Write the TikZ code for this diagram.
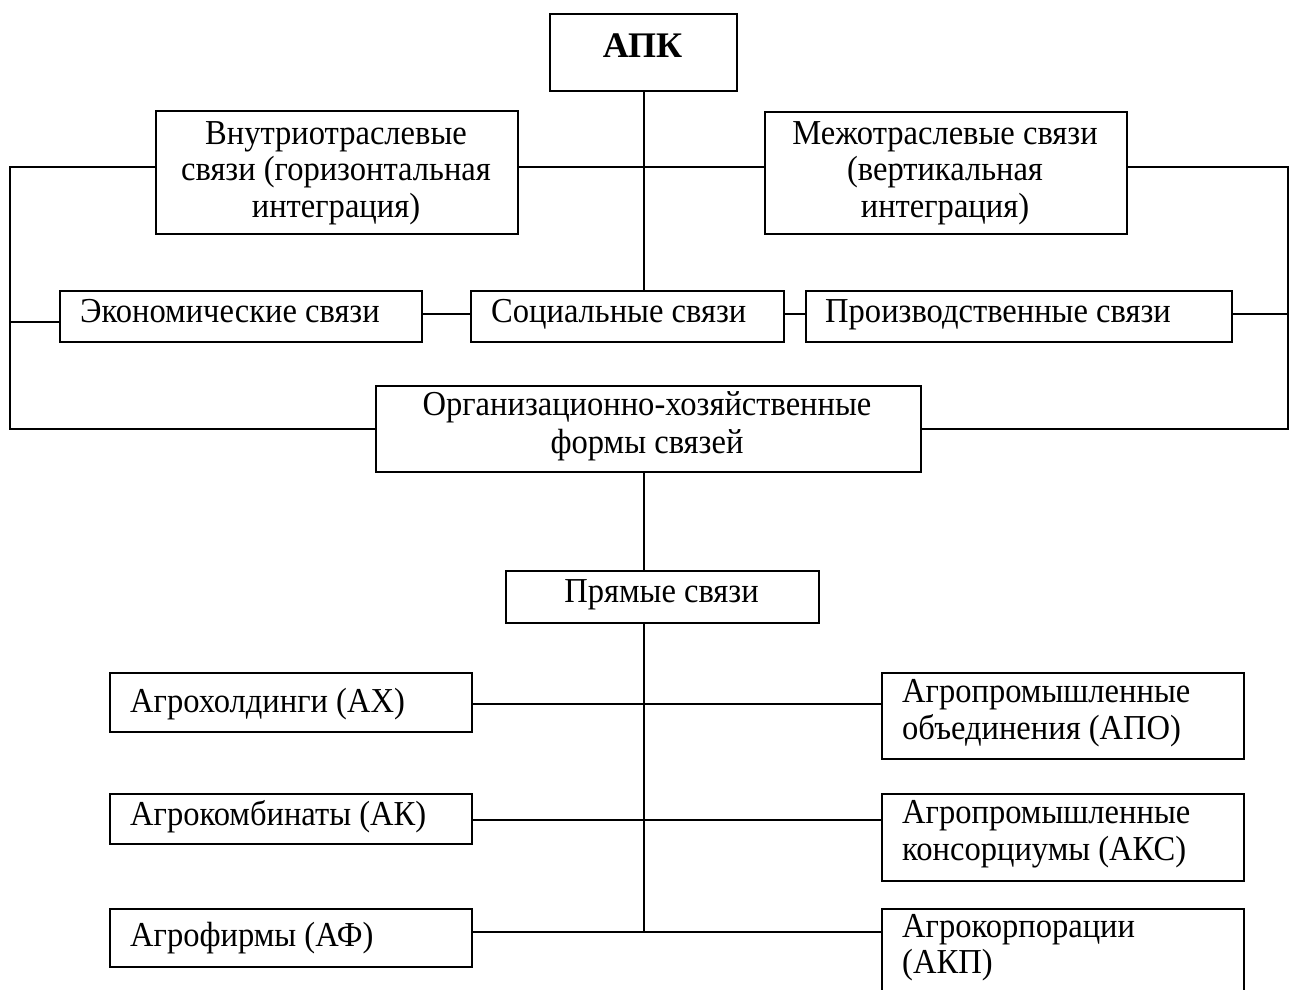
\documentclass[tikz,border=0pt]{standalone}
\usepackage{fontspec}
\setmainfont{Liberation Serif}[FakeStretch=0.93]
\newfontfamily\apkfont{Liberation Serif}
\begin{document}
\begin{tikzpicture}[x=1pt,y=-1pt,
  box/.style={draw, line width=2.2pt, inner sep=0pt, anchor=north west},
  conn/.style={line width=2.2pt},
  lbl/.style={inner sep=0pt, font=\fontsize{35pt}{37pt}\selectfont},
  lw/.style={lbl, anchor=base west},
  lc/.style={lbl, anchor=base}]
\useasboundingbox (0,0) rectangle (1290,990);
\fill[white] (0,0) rectangle (1290,990);
\begin{scope}
\clip (0,0) rectangle (1290,990);
% boxes
\node[box, minimum width=187pt, minimum height=77pt] (apk) at (549,13) {};
\node[box, minimum width=362pt, minimum height=123pt] (vn) at (155,110) {};
\node[box, minimum width=362pt, minimum height=122pt] (mz) at (764,111) {};
\node[box, minimum width=362pt, minimum height=51pt] (ek) at (59,290) {};
\node[box, minimum width=313pt, minimum height=51pt] (soc) at (470,290) {};
\node[box, minimum width=426pt, minimum height=51pt] (pr) at (805,290) {};
\node[box, minimum width=545pt, minimum height=86pt] (org) at (375,385) {};
\node[box, minimum width=313pt, minimum height=52pt] (pry) at (505,570) {};
\node[box, minimum width=362pt, minimum height=59pt] (ax) at (109,672) {};
\node[box, minimum width=362pt, minimum height=50pt] (ak) at (109,793) {};
\node[box, minimum width=362pt, minimum height=58pt] (af) at (109,908) {};
\node[box, minimum width=362pt, minimum height=86pt] (apo) at (881,672) {};
\node[box, minimum width=362pt, minimum height=87pt] (aks) at (881,793) {};
\node[box, minimum width=362pt, minimum height=110pt] (akp) at (881,908) {};
% texts
\node[lbl, anchor=base, font=\apkfont\bfseries\fontsize{36pt}{38pt}\selectfont] (apk-t) at (642.5,58) {АПК};
\node[lc] (vn-t1) at (336,144) {Внутриотраслевые};
\node[lc] (vn-t2) at (336,180.5) {связи (горизонтальная};
\node[lc] (vn-t3) at (336,217.5) {интеграция)};
\node[lc] (mz-t1) at (945,144) {Межотраслевые связи};
\node[lc] (mz-t2) at (945,180.5) {(вертикальная};
\node[lc] (mz-t3) at (945,217.5) {интеграция)};
\node[lw] (ek-t) at (80,322) {Экономические связи};
\node[lw] (soc-t) at (491,322) {Социальные связи};
\node[lw] (pr-t) at (825,322) {Производственные связи};
\node[lc] (org-t1) at (647,415) {Организационно-хозяйственные};
\node[lc] (org-t2) at (647,453) {формы связей};
\node[lc] (pry-t) at (661.5,602) {Прямые связи};
\node[lw] (ax-t) at (130,712) {Агрохолдинги (АХ)};
\node[lw] (ak-t) at (130,825) {Агрокомбинаты (АК)};
\node[lw] (af-t) at (130,946) {Агрофирмы (АФ)};
\node[lw] (apo-t1) at (902,702) {Агропромышленные};
\node[lw] (apo-t2) at (902,739) {объединения (АПО)};
\node[lw] (aks-t1) at (902,823) {Агропромышленные};
\node[lw] (aks-t2) at (902,860) {консорциумы (АКС)};
\node[lw] (akp-t1) at (902,937) {Агрокорпорации};
\node[lw] (akp-t2) at (902,973) {(АКП)};
% helper coordinates
\coordinate (L) at (10,0);
\coordinate (R) at (1288,0);
\coordinate (c) at (644,0);
\coordinate (h1) at (0,167);
\coordinate (e1) at (0,322);
\coordinate (e2) at (0,314);
\coordinate (b1) at (0,704);
\coordinate (b2) at (0,820);
\coordinate (b3) at (0,932);
% connectors
\draw[conn] (apk.south) -- (apk.south |- soc.north);
\draw[conn] (vn.east |- h1) -- (mz.west |- h1);
\draw[conn] (vn.west |- h1) -| (L |- org.west) -- (org.west);
\draw[conn] (L |- e1) -- (ek.west |- e1);
\draw[conn] (mz.east |- h1) -| (R |- org.east) -- (org.east);
\draw[conn] (ek.east |- e2) -- (soc.west |- e2);
\draw[conn] (soc.east |- e2) -- (pr.west |- e2);
\draw[conn] (pr.east |- e2) -- (R |- e2);
\draw[conn] (org.south -| c) -- (pry.north -| c);
\draw[conn] (pry.south -| c) -- (c |- b3);
\draw[conn] (ax.east |- b1) -- (apo.west |- b1);
\draw[conn] (ak.east |- b2) -- (aks.west |- b2);
\draw[conn] (af.east |- b3) -- (akp.west |- b3);
\end{scope}
\end{tikzpicture}
\end{document}
